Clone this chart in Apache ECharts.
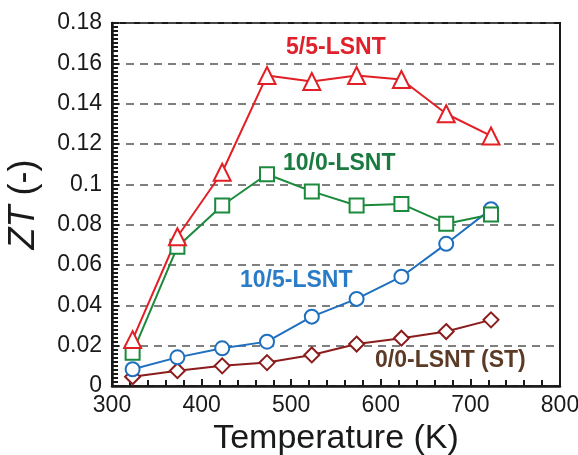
<!DOCTYPE html>
<html>
<head>
<meta charset="UTF-8">
<title>ZT vs Temperature</title>
<script src="https://cdn.jsdelivr.net/npm/echarts@6/dist/echarts.min.js"></script>
<style>
  html, body { margin: 0; padding: 0; background: #fff; }
  #main { width: 578px; height: 455px; }
</style>
</head>
<body>
<div id="main"></div>
<script>
// temperatures (K)
var temps = [323, 373, 423, 473, 523, 573, 623, 673, 723];
// ZT values
var zt55  = [0.023, 0.074, 0.106, 0.154, 0.151, 0.154, 0.152, 0.135, 0.124];
var zt100 = [0.0165, 0.069, 0.0895, 0.105, 0.0965, 0.0895, 0.0903, 0.0805, 0.085];
var zt105 = [0.0083, 0.0142, 0.0187, 0.022, 0.0344, 0.0432, 0.0542, 0.0705, 0.0877];
var zt00  = [0.0046, 0.0076, 0.010, 0.0116, 0.0154, 0.0208, 0.0237, 0.027, 0.0328];

function pairs(ys) {
  return temps.map(function (t, i) { return [t, ys[i]]; });
}

var fontFam = '"Liberation Sans", Arial, Helvetica, sans-serif';

function line(name, ys, color, symbol, size) {
  return {
    name: name,
    type: 'line',
    data: pairs(ys),
    symbol: symbol,
    symbolSize: size,
    showAllSymbol: true,
    lineStyle: { color: color, width: 2 },
    itemStyle: { color: '#fff', borderColor: color, borderWidth: 2 },
    emphasis: { disabled: true },
    z: 3
  };
}

var chart = echarts.init(document.getElementById('main'));
chart.setOption({
  animation: false,
  textStyle: { fontFamily: fontFam },
  grid: {
    left: 112, right: 18, top: 23, bottom: 69,
    outerBoundsMode: 'none',
    containLabel: false,
    show: true, borderColor: '#1a1a1a', borderWidth: 2
  },
  xAxis: {
    type: 'value', min: 300, max: 800, interval: 100,
    name: 'Temperature (K)',
    nameLocation: 'middle',
    nameGap: 33,
    nameTextStyle: { fontSize: 34, color: '#1a1a1a', fontFamily: fontFam },
    axisLine: { lineStyle: { color: '#1a1a1a', width: 2.5 } },
    axisTick: { inside: true, length: 7, lineStyle: { color: '#1a1a1a', width: 2 } },
    minorTick: { show: true, splitNumber: 5, length: 6, lineStyle: { color: '#1a1a1a', width: 2 } },
    axisLabel: { fontSize: 23, color: '#1a1a1a', margin: 8 },
    splitLine: { show: false }
  },
  yAxis: {
    type: 'value', min: 0, max: 0.18, interval: 0.02,
    name: '{i|ZT} (-)',
    nameLocation: 'middle',
    nameGap: 70,
    nameRotate: 90,
    nameTextStyle: {
      fontSize: 36, color: '#1a1a1a', fontFamily: fontFam,
      rich: { i: { fontSize: 36, fontStyle: 'italic', color: '#1a1a1a', fontFamily: fontFam } }
    },
    axisLine: { lineStyle: { color: '#1a1a1a', width: 2.5 } },
    axisTick: { inside: true, length: 7, lineStyle: { color: '#1a1a1a', width: 2 } },
    minorTick: { show: true, splitNumber: 10, length: 6, lineStyle: { color: '#1a1a1a', width: 2 } },
    axisLabel: { fontSize: 23, color: '#1a1a1a', margin: 10 },
    splitLine: { show: true, lineStyle: { color: '#555', width: 1.5, type: [8, 6] } }
  },
  series: [
    line('0/0-LSNT (ST)', zt00, '#8b1c1c', 'diamond', 15),
    line('10/5-LSNT', zt105, '#1f6fc0', 'circle', 14),
    line('10/0-LSNT', zt100, '#1b8a3c', 'rect', 14),
    line('5/5-LSNT', zt55, '#e31f26', 'triangle', 17)
  ],
  graphic: [
    { type: 'text', left: 286, top: 36,
      style: { text: '5/5-LSNT', fill: '#e0202a', font: 'bold 23px ' + fontFam } },
    { type: 'text', left: 283, top: 152,
      style: { text: '10/0-LSNT', fill: '#1a7a40', font: 'bold 23px ' + fontFam } },
    { type: 'text', left: 240, top: 269,
      style: { text: '10/5-LSNT', fill: '#2a7cc8', font: 'bold 23px ' + fontFam } },
    { type: 'text', left: 375, top: 349,
      style: { text: '0/0-LSNT (ST)', fill: '#5b3a26', font: 'bold 23px ' + fontFam } }
  ]
});
</script>
</body>
</html>
